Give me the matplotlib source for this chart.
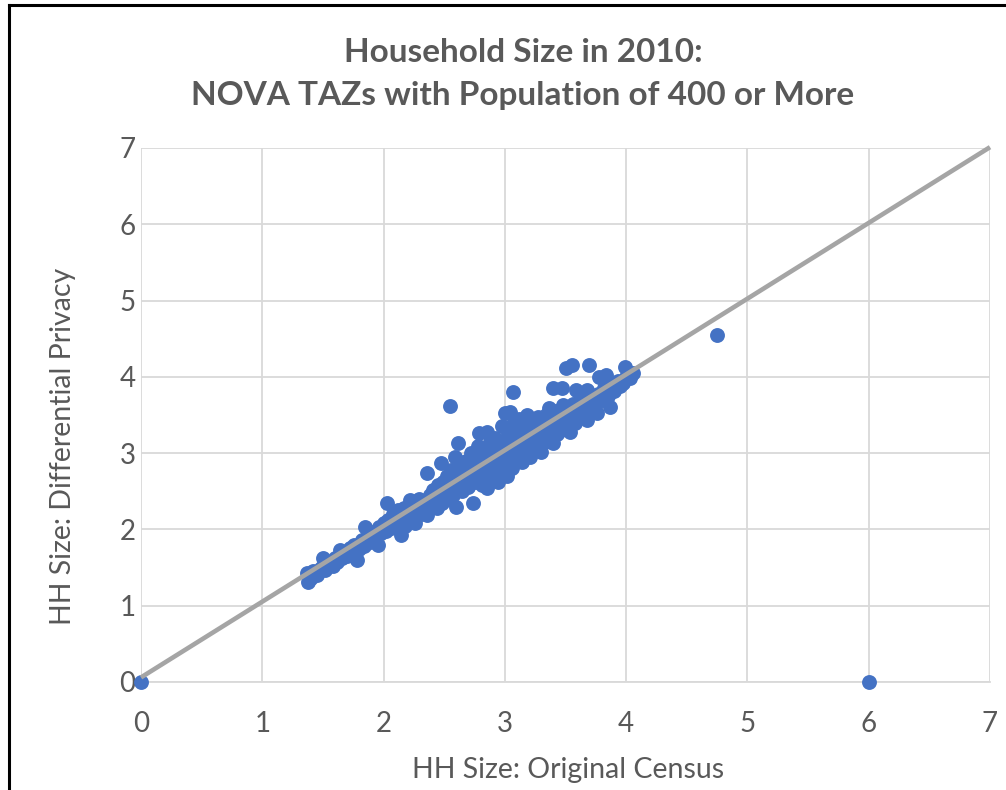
import matplotlib
matplotlib.use("Agg")
import matplotlib.pyplot as plt
from matplotlib.lines import Line2D

# ---- data ----
census = [0.00, 6.00, 4.75,
    1.37, 1.38, 1.40, 1.42, 1.45, 1.48, 1.50, 1.52,
    1.55, 1.58, 1.60, 1.62, 1.64, 1.66, 1.68, 1.70,
    1.72, 1.74, 1.76, 1.78, 1.80, 1.82, 1.84, 1.85, 1.87, 1.89,
    1.91, 1.93, 1.95, 1.96, 1.98, 2.00, 2.02, 2.03, 2.04, 2.06, 2.08, 2.09,
    2.11, 2.12, 2.14, 2.15, 2.17, 2.18, 2.20, 2.22, 2.23, 2.25, 2.26, 2.28, 2.29,
    2.31, 2.33, 2.34, 2.36, 2.36, 2.38, 2.39, 2.41, 2.42, 2.44, 2.45, 2.47, 2.47, 2.48, 2.49,
    2.51, 2.52, 2.53, 2.55, 2.55, 2.56, 2.57, 2.58, 2.59, 2.60, 2.60, 2.61, 2.62, 2.63, 2.64, 2.65, 2.66, 2.67, 2.68, 2.69,
    2.70, 2.71, 2.72, 2.73, 2.74, 2.75, 2.76, 2.77, 2.78, 2.79, 2.79, 2.80, 2.81, 2.82, 2.83, 2.84, 2.85, 2.85, 2.86, 2.87, 2.88, 2.89,
    2.90, 2.91, 2.92, 2.93, 2.94, 2.95, 2.96, 2.97, 2.98, 2.99, 3.00, 3.00, 3.01, 3.02, 3.03, 3.04, 3.04, 3.05, 3.06, 3.07, 3.07, 3.08, 3.09, 3.10,
    3.11, 3.12, 3.13, 3.14, 3.15, 3.16, 3.17, 3.18, 3.19, 3.20, 3.21, 3.22, 3.23, 3.24, 3.25, 3.26, 3.27, 3.28, 3.29,
    3.30, 3.31, 3.32, 3.33, 3.34, 3.35, 3.36, 3.37, 3.38, 3.40, 3.40, 3.41, 3.42, 3.43, 3.44, 3.46, 3.47, 3.47, 3.48, 3.49, 3.50,
    3.51, 3.52, 3.54, 3.55, 3.55, 3.56, 3.58, 3.59, 3.60, 3.62, 3.63, 3.65, 3.66, 3.68, 3.68, 3.69, 3.70, 3.72,
    3.74, 3.76, 3.77, 3.78, 3.80, 3.82, 3.83, 3.85, 3.87, 3.88, 3.90, 3.93, 3.95, 3.97, 3.99, 4.00, 4.03, 4.06]

diff_privacy = [0.00, 0.00, 4.55,
    1.43, 1.31, 1.36, 1.45, 1.40, 1.50, 1.62, 1.47,
    1.55, 1.52, 1.63, 1.57, 1.73, 1.62, 1.70, 1.65,
    1.76, 1.68, 1.80, 1.60, 1.74, 1.86, 1.78, 2.03, 1.90, 1.83,
    1.97, 1.88, 1.80, 2.03, 1.95, 2.08, 1.98, 2.35, 2.12, 2.02, 2.20, 2.06,
    2.16, 2.25, 1.93, 2.10, 2.28, 2.05, 2.22, 2.38, 2.15, 2.30, 2.08, 2.25, 2.40,
    2.20, 2.35, 2.27, 2.74, 2.19, 2.45, 2.32, 2.52, 2.38, 2.28, 2.58, 2.87, 2.44, 2.35, 2.62,
    2.50, 2.70, 2.40, 3.62, 2.58, 2.78, 2.45, 2.66, 2.95, 2.30, 2.55, 3.13, 2.72, 2.62, 2.85, 2.50, 2.75, 2.60, 2.90, 2.68,
    2.55, 2.80, 3.00, 2.70, 2.35, 2.62, 2.88, 2.78, 3.10, 3.26, 2.68, 2.95, 2.58, 2.85, 3.05, 2.74, 2.54, 3.28, 2.92, 2.80, 3.15, 2.66,
    3.00, 2.72, 3.20, 2.88, 2.62, 3.08, 2.95, 2.78, 3.35, 3.02, 3.52, 2.85, 3.15, 2.70, 3.25, 3.54, 2.95, 3.05, 2.80, 3.80, 3.38, 3.12, 2.90, 3.22,
    3.00, 3.45, 3.10, 2.88, 3.30, 3.05, 2.95, 3.50, 3.18, 3.38, 2.95, 3.12, 3.28, 3.05, 3.42, 3.20, 3.48, 3.10, 3.32,
    3.02, 3.25, 3.40, 3.15, 3.50, 3.30, 3.59, 3.20, 3.42, 3.13, 3.85, 3.35, 3.55, 3.25, 3.45, 3.30, 3.85, 3.52, 3.63, 3.38, 4.12,
    3.45, 3.60, 3.28, 4.15, 3.50, 3.65, 3.40, 3.83, 3.55, 3.70, 3.48, 3.62, 3.75, 3.43, 3.83, 4.15, 3.58, 3.70,
    3.62, 3.52, 3.78, 4.00, 3.70, 3.85, 4.02, 3.75, 3.60, 3.90, 3.82, 3.95, 3.88, 3.92, 4.13, 4.00, 3.98, 4.05]

trend_x = [0, 7]
trend_slope = 0.993
trend_intercept = 0.06

title_text = "Household Size in 2010:\nNOVA TAZs with Population of 400 or More"
xlabel_text = "HH Size: Original Census"
ylabel_text = "HH Size: Differential Privacy"
ticks = [0, 1, 2, 3, 4, 5, 6, 7]

# ---- figure ----
W, H = 1006, 790
fig = plt.figure(figsize=(W / 100, H / 100), dpi=100)
ax = fig.add_axes([141 / W, (H - 682) / H, (990 - 141) / W, (682 - 148) / H])

grey_text = "#595959"
grid_col = "#D9D9D9"
font = "Lato"

ax.set_xlim(0, 7)
ax.set_ylim(0, 7)
ax.set_xticks(ticks)
ax.set_yticks(ticks)
ax.grid(True, color=grid_col, linewidth=1.3, zorder=0)
ax.set_axisbelow(True)
for s in ["top", "right", "left"]:
    ax.spines[s].set_visible(False)
ax.spines["bottom"].set_color(grid_col)
ax.spines["bottom"].set_linewidth(1.3)
ax.tick_params(length=0, labelsize=20, labelcolor=grey_text)
ax.tick_params(axis="x", pad=21)
ax.tick_params(axis="y", pad=4)
for lab in ax.get_xticklabels() + ax.get_yticklabels():
    lab.set_fontfamily(font)

ax.scatter(census, diff_privacy, s=115, color="#4472C4", linewidths=0, zorder=3, clip_on=False)
trend_y = [trend_intercept + trend_slope * v for v in trend_x]
ax.plot(trend_x, trend_y, color="#A5A5A5", linewidth=3.3, zorder=4, solid_capstyle="butt", clip_on=False)

ax.set_xlabel(xlabel_text, fontsize=20.5, color=grey_text, family=font)
ax.set_ylabel(ylabel_text, fontsize=20.5, color=grey_text, family=font)
ax.xaxis.set_label_coords((568 - 141) / 849, (682 - 757) / 534)
ax.yaxis.set_label_coords((76 - 141) / 849, (682 - 446) / 534)

fig.text(523 / W, 1 - 74 / H, title_text, ha="center", va="center", fontsize=24,
         fontweight="bold", color=grey_text, family=font, linespacing=1.55)

# chart frame (left and top edges visible in the reference crop)
fig.add_artist(Line2D([9 / W, 9 / W], [0, 1 - 5 / H], transform=fig.transFigure, color="black", linewidth=2.2))
fig.add_artist(Line2D([9 / W, 1], [1 - 5 / H, 1 - 5 / H], transform=fig.transFigure, color="black", linewidth=2.2))

fig.savefig("out.png", dpi=100)
